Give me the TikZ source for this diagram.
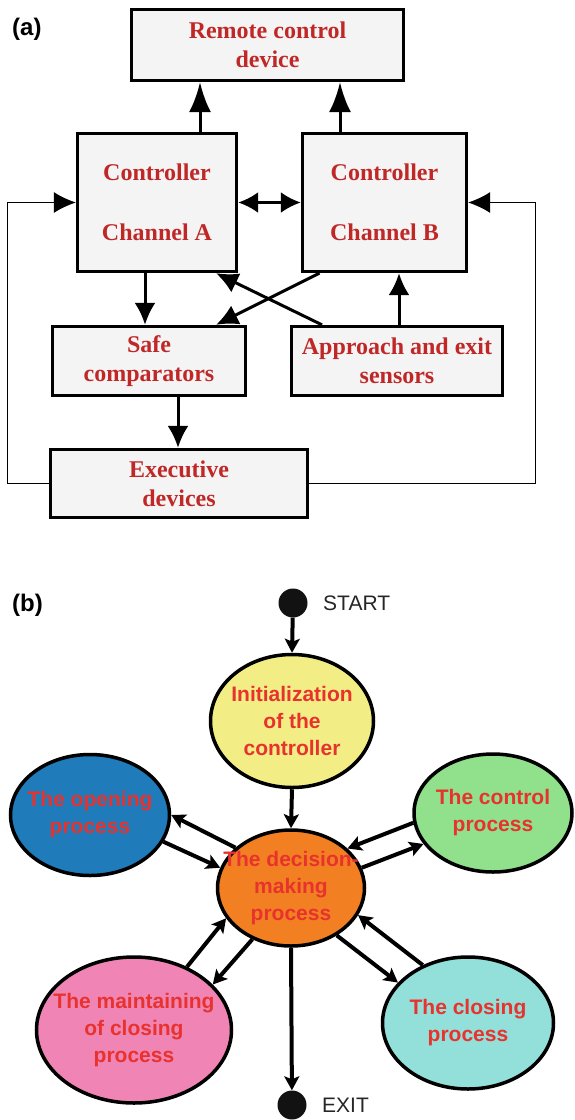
\documentclass[tikz,border=0pt]{standalone}
\usepackage{fontspec}
\setmainfont{Liberation Serif}
\newfontfamily\arialfont{Liberation Sans}
\usetikzlibrary{arrows.meta,positioning,shapes.geometric}
\definecolor{boxgray}{RGB}{244,244,244}
\definecolor{blkred}{RGB}{192,40,40}
\definecolor{procred}{RGB}{232,50,46}
\definecolor{procyellow}{RGB}{242,238,133}
\definecolor{procblue}{RGB}{31,123,186}
\definecolor{procgreen}{RGB}{144,224,140}
\definecolor{procorange}{RGB}{242,128,34}
\definecolor{procpink}{RGB}{240,133,181}
\definecolor{proccyan}{RGB}{147,223,217}
\begin{document}
\begin{tikzpicture}[x=1pt,y=-1pt,
    blk/.style={draw, line width=3.3pt, fill=boxgray, text=blkred, inner sep=0pt,
      font=\fontsize{24}{29}\selectfont\bfseries, align=center},
    arr/.style={line width=3pt, -{Latex[length=22pt,width=21pt]}},
    arrtop/.style={line width=3pt, -{Latex[length=30pt,width=22pt]}},
    darr/.style={line width=3pt, {Latex[length=20pt,width=21pt]}-{Latex[length=20pt,width=21pt]}},
    fb/.style={line width=1.2pt, -{Latex[length=22pt,width=21pt]}},
    proc/.style={ellipse, draw, line width=3.5pt, inner sep=0pt},
    ptxt/.style={text=procred, inner sep=0pt, align=center,
      font=\arialfont\fontsize{21}{27}\selectfont\bfseries},
    flow/.style={line width=4pt, -{Stealth[length=14pt,width=15pt,inset=3pt]}},
    dot/.style={circle, fill=black!93, minimum size=29pt, inner sep=0pt},
    lbl/.style={text=black!85, font=\arialfont\fontsize{21}{25}\selectfont},
    part/.style={anchor=west, inner sep=0pt, font=\arialfont\fontsize{24}{28}\selectfont\bfseries}
  ]
\useasboundingbox (0,0) rectangle (575,1120);

% (a) channels
\node[part] (pa) at (12,29) {(a)};
\node[blk, minimum width=272pt, minimum height=71pt] (rc) at (267.5,45) {Remote control\\device};
\node[blk, minimum width=159pt, minimum height=138pt] (cha) at (157,202.5) {Controller\\[31pt]Channel A};
\node[blk, minimum width=164pt, minimum height=138pt] (chb) at (384.5,202.5) {Controller\\[31pt]Channel B};
\node[blk, minimum width=193pt, minimum height=69pt] (cmp) at (149,361) {Safe\\comparators};
\node[blk, minimum width=211pt, minimum height=69pt] (sens) at (397,361) {Approach and exit\\sensors};
\node[blk, minimum width=257pt, minimum height=68pt] (exe) at (179,483.5) {Executive\\devices};

\draw[arrtop] ([xshift=43pt]cha.north) -- ([xshift=43pt]cha.north |- rc.south);
\draw[arrtop] ([xshift=-44.5pt]chb.north) -- ([xshift=-44.5pt]chb.north |- rc.south);
\draw[darr] (cha.east) -- (chb.west);
\draw[fb] (exe.west) -- ++(-41pt,0) |- (cha.west);
\draw[fb] (exe.east) -- ++(226pt,0) |- (chb.east);
\draw[arr] ([xshift=-12pt]cha.south) -- ([xshift=-12pt]cha.south |- cmp.north);
\draw[arr] ([xshift=-65pt]chb.south) -- ([xshift=67pt]cmp.north);
\draw[arr] ([xshift=-75pt]sens.north) -- ([xshift=59pt]cha.south);
\draw[arr] ([xshift=2pt]sens.north) -- ([xshift=2pt]sens.north |- chb.south);
\draw[arr] ([xshift=29pt]cmp.south) -- ([xshift=29pt]cmp.south |- exe.north);

% (b) processes
\node[part] (pb) at (12,605) {(b)};
\node[dot] (st) at (293,603) {};
\node[lbl, right=12pt of st] (sttxt) {START};
\node[proc, fill=procyellow, minimum width=163pt, minimum height=133pt] (init) at (292,721) {};
\node[proc, fill=procblue, minimum width=159pt, minimum height=121pt] (open) at (90,815) {};
\node[proc, fill=procgreen, minimum width=158pt, minimum height=118pt] (ctrl) at (493,813) {};
\node[proc, fill=procorange, minimum width=147pt, minimum height=116pt] (dec) at (291,888) {};
\node[proc, fill=procpink, minimum width=195pt, minimum height=146pt] (maint) at (134,1030) {};
\node[proc, fill=proccyan, minimum width=171pt, minimum height=132pt] (close) at (468,1023) {};
\node[dot] (ex) at (292,1105) {};
\node[lbl, right=12pt of ex] (extxt) {EXIT};

\node[ptxt] (initt) at (init) {Initialization\\of the\\controller};
\node[ptxt] (opent) at (open) {The opening\\process};
\node[ptxt] (ctrlt) at (ctrl) {The control\\process};
\node[ptxt] (dect) at (dec) {The decision-\\making\\process};
\node[ptxt] (maintt) at (maint) {The maintaining\\of closing\\process};
\node[ptxt] (closet) at (close) {The closing\\process};

\draw[flow] (st) -- (init.north);
\draw[flow] (init.south) -- (dec.north);
\draw[flow] (dec.south) -- (ex);
\draw[flow] (dec.144) -- (open.0);
\draw[flow] (open.-20) -- (dec.164);
\draw[flow] (ctrl.187) -- (dec.35);
\draw[flow] (dec.16) -- (ctrl.204);
\draw[flow] (maint.50) -- (dec.205);
\draw[flow] (dec.233) -- (maint.30);
\draw[flow] (close.128) -- (dec.-22);
\draw[flow] (dec.-46) -- (close.150);
\end{tikzpicture}
\end{document}
